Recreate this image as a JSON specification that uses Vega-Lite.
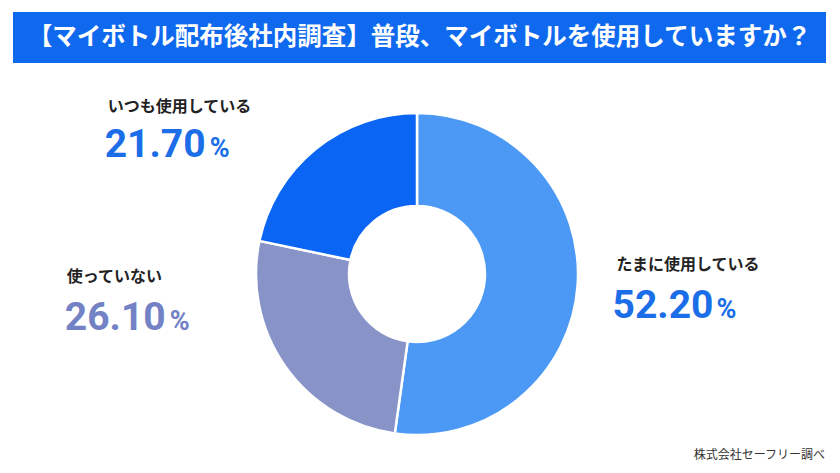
{
  "$schema": "https://vega.github.io/schema/vega-lite/v6.json",
  "padding": {"left": 13, "top": 12, "right": 0, "bottom": 0},
  "background": "#ffffff",
  "spacing": 13,
  "bounds": "flush",
  "config": {"view": {"stroke": null}, "font": "Noto Sans CJK JP"},
  "vconcat": [
    {
      "width": 813,
      "height": 51,
      "view": {"fill": "#0f69ef", "stroke": null},
      "data": {"values": [{"heading": "【マイボトル配布後社内調査】普段、マイボトルを使用していますか？"}]},
      "mark": {"type": "text", "color": "#ffffff", "font": "Noto Sans CJK JP", "fontSize": 24.5, "fontWeight": "bold", "align": "center", "baseline": "middle"},
      "encoding": {"text": {"field": "heading", "type": "nominal"}}
    },
    {
      "width": 808,
      "height": 396,
      "layer": [
        {
          "data": {
            "values": [
              {"answer": "たまに使用している", "pct": 52.2, "order": 1},
              {"answer": "使っていない", "pct": 26.1, "order": 2},
              {"answer": "いつも使用している", "pct": 21.7, "order": 3}
            ]
          },
          "encoding": {
            "theta": {"field": "pct", "type": "quantitative", "stack": true, "scale": {"domain": [0, 100]}},
            "order": {"field": "order", "type": "ordinal"}
          },
          "layer": [
            {
              "mark": {"type": "arc", "outerRadius": 161, "innerRadius": 68, "stroke": "#ffffff", "strokeWidth": 2.5},
              "encoding": {
                "color": {
                  "field": "answer",
                  "type": "nominal",
                  "scale": {"domain": ["たまに使用している", "使っていない", "いつも使用している"], "range": ["#4b99f5", "#8893c8", "#0a64f4"]},
                  "legend": null
                }
              }
            },
            {
              "mark": {"type": "text", "radius": 175, "align": "left", "baseline": "alphabetic", "dx": 25, "dy": -16, "fontSize": 16, "fontWeight": "bold", "color": "#222222"},
              "encoding": {"text": {"condition": {"test": "datum.order === 1", "field": "answer", "type": "nominal"}, "value": ""}}
            },
            {
              "mark": {"type": "text", "radius": 175, "align": "left", "baseline": "alphabetic", "dx": 21, "dy": 32, "font": "Roboto", "fontSize": 39, "fontWeight": "bold", "color": "#1b6ee8"},
              "encoding": {"text": {"condition": {"test": "datum.order === 1", "field": "pct", "type": "quantitative", "format": ".2f"}, "value": ""}}
            },
            {
              "mark": {"type": "text", "radius": 175, "align": "left", "baseline": "alphabetic", "dx": 125, "dy": 32, "font": "Roboto", "fontSize": 27, "fontWeight": "bold", "color": "#1b6ee8"},
              "encoding": {"text": {"condition": {"test": "datum.order === 1", "value": "%"}, "value": ""}}
            },
            {
              "mark": {"type": "text", "radius": 175, "align": "left", "baseline": "alphabetic", "dx": -207, "dy": -93, "fontSize": 16, "fontWeight": "bold", "color": "#222222"},
              "encoding": {"text": {"condition": {"test": "datum.order === 2", "field": "answer", "type": "nominal"}, "value": ""}}
            },
            {
              "mark": {"type": "text", "radius": 175, "align": "left", "baseline": "alphabetic", "dx": -209, "dy": -45, "font": "Roboto", "fontSize": 39, "fontWeight": "bold", "color": "#7282c5"},
              "encoding": {"text": {"condition": {"test": "datum.order === 2", "field": "pct", "type": "quantitative", "format": ".2f"}, "value": ""}}
            },
            {
              "mark": {"type": "text", "radius": 175, "align": "left", "baseline": "alphabetic", "dx": -104, "dy": -45, "font": "Roboto", "fontSize": 27, "fontWeight": "bold", "color": "#7282c5"},
              "encoding": {"text": {"condition": {"test": "datum.order === 2", "value": "%"}, "value": ""}}
            },
            {
              "mark": {"type": "text", "radius": 175, "align": "left", "baseline": "alphabetic", "dx": -199, "dy": -26, "fontSize": 16, "fontWeight": "bold", "color": "#222222"},
              "encoding": {"text": {"condition": {"test": "datum.order === 3", "field": "answer", "type": "nominal"}, "value": ""}}
            },
            {
              "mark": {"type": "text", "radius": 175, "align": "left", "baseline": "alphabetic", "dx": -202, "dy": 19, "font": "Roboto", "fontSize": 39, "fontWeight": "bold", "color": "#1b6ee8"},
              "encoding": {"text": {"condition": {"test": "datum.order === 3", "field": "pct", "type": "quantitative", "format": ".2f"}, "value": ""}}
            },
            {
              "mark": {"type": "text", "radius": 175, "align": "left", "baseline": "alphabetic", "dx": -97, "dy": 19, "font": "Roboto", "fontSize": 27, "fontWeight": "bold", "color": "#1b6ee8"},
              "encoding": {"text": {"condition": {"test": "datum.order === 3", "value": "%"}, "value": ""}}
            }
          ]
        },
        {
          "data": {"values": [{"note": "株式会社セーフリー調べ"}]},
          "mark": {"type": "text", "x": "width", "y": "height", "align": "right", "baseline": "alphabetic", "dx": 4, "dy": -13, "fontSize": 12, "color": "#333333"},
          "encoding": {"text": {"field": "note", "type": "nominal"}}
        }
      ]
    }
  ]
}
